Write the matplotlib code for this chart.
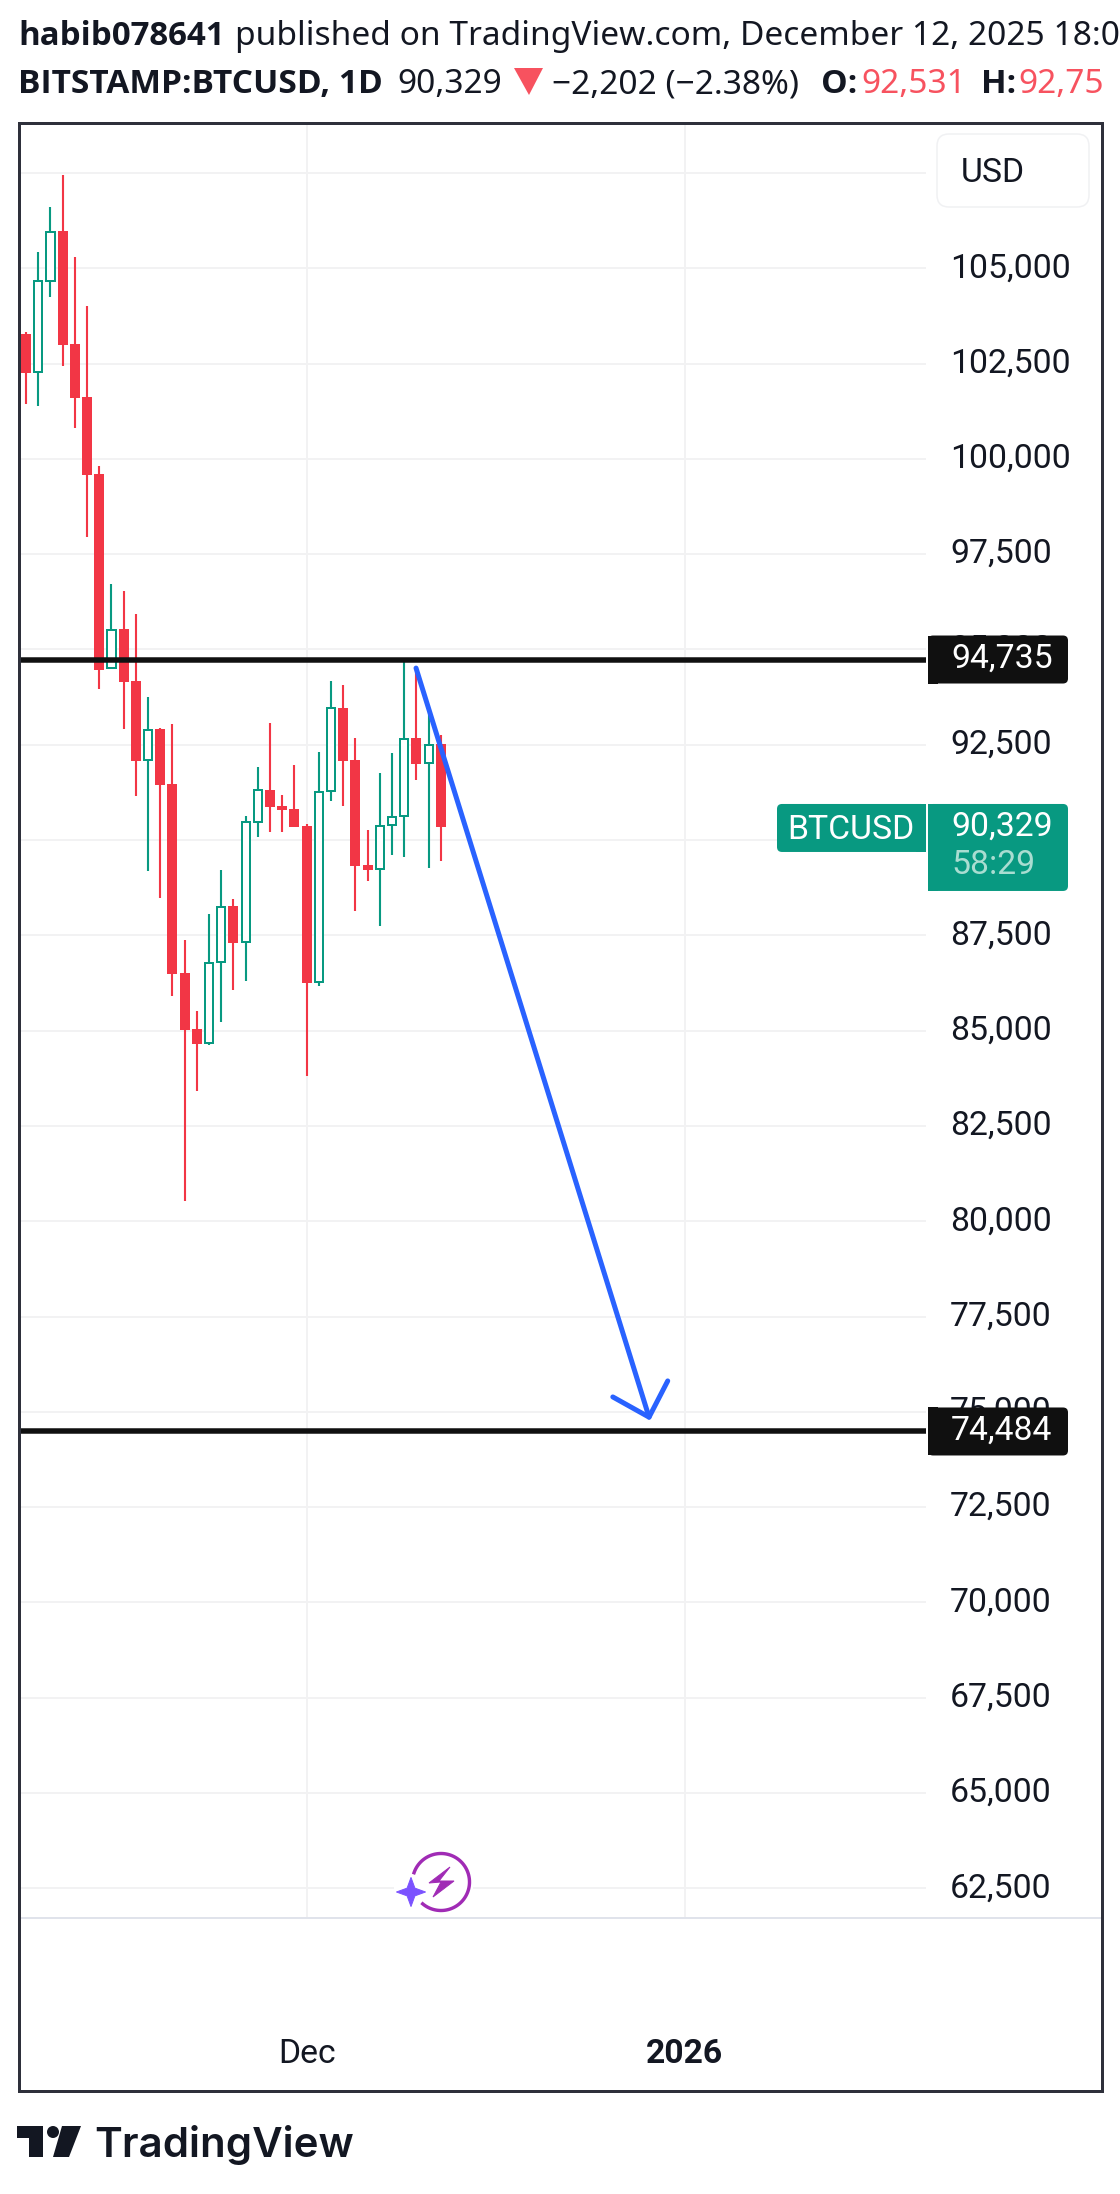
import numpy as np
import matplotlib
matplotlib.use("Agg")
import matplotlib.pyplot as plt
from matplotlib.patches import FancyBboxPatch, Rectangle, Polygon, Circle

# ---------- data ----------
opens  = [103270,102290,104670,105980,103010,101620,99600,94500,95530,94170,92100,92910,91470,86510,85040,84680,86800,88270,87330,90470,91310,90890,90810,90370,86280,91290,93460,92100,89340,89240,90390,90630,92680,92020,92531]
highs  = [103330,105430,106610,107450,105290,104010,99810,96720,96530,95930,93750,92940,93040,87380,85510,88060,89210,88450,90630,91920,93070,91180,91970,90420,92310,94170,94070,92680,90260,91760,92280,94720,94510,93360,92750]
lows   = [101440,101390,104250,102440,100810,97950,93960,94500,92910,91160,89190,88480,85910,80530,83420,84620,85230,86070,86300,90080,90210,90210,90340,83810,86170,91020,90890,88140,88930,87740,89610,89550,91570,89270,89450]
closes = [102260,104670,105960,102990,101600,99580,94460,95520,94150,92070,92890,91440,86490,85020,84650,86780,88250,87300,90470,91310,90870,90790,90340,86250,91270,93450,92070,89320,89210,90380,90610,92650,91990,92500,90329]

price_ticks = [107500,105000,102500,100000,97500,95000,92500,90000,87500,85000,82500,80000,77500,75000,72500,70000,67500,65000,62500]
covered_ticks = [107500, 90000]      # fully hidden by the USD button and the BTCUSD tag
time_ticks = [23, 54]
time_labels = ["Dec", "2026"]

level_prices = [94735, 74484]
last_price = 90329
countdown = "58:29"
arrow_x = [31.97, 51.07]
arrow_y = [94510, 74860]
head_x = [48.1, 51.07, 52.6]
head_y = [75390, 74860, 75810]

# ---------- style ----------
W, H = 1120, 2194
DPI = 100
PX = 72 / DPI
INK = "#131722"
RED = "#F23645"
GREEN = "#089981"
BLACK = "#101010"
BLUE = "#2962FF"
GRID = "#F2F2F3"
AX_PT = 33.8 * PX
plt.rcParams["font.family"] = ["Roboto", "DejaVu Sans"]

fig = plt.figure(figsize=(W / DPI, H / DPI), dpi=DPI, facecolor="white")

L, R, T, B = 18.5, 926.0, 122.5, 1918.0
ax = fig.add_axes([L / W, 1 - B / H, (R - L) / W, (B - T) / H])
ax.set_facecolor("white")
for s in ax.spines.values():
    s.set_visible(False)
ax.set_xlim((L - 26) / 12.2, (R - 26) / 12.2)
ax.set_ylim(112036 - 26.233 * B, 112036 - 26.233 * T)

ax.yaxis.tick_right()
ax.set_yticks(price_ticks)
ax.set_yticklabels(["" if p in covered_ticks else f"{p:,}" for p in price_ticks], fontsize=AX_PT, color=INK)
for lab in ax.get_yticklabels():
    lab.set_va("center")
ax.set_xticks(time_ticks)
ax.set_xticklabels(time_labels, fontsize=AX_PT, color=INK)
ax.get_xticklabels()[1].set_fontweight("bold")
ax.tick_params(axis="y", length=0, pad=24 * PX)
ax.tick_params(axis="x", length=0, pad=120 * PX)
ax.grid(True, color=GRID, lw=2 * PX, zorder=0)
ax.set_axisbelow(True)

# candles
idx = np.arange(len(opens))
o, h, l, c = map(np.array, (opens, highs, lows, closes))
up = c >= o
ax.vlines(idx, l, h, colors=[GREEN if u else RED for u in up], lw=2.1 * PX, zorder=2)
ax.bar(idx[~up], (o - c)[~up], bottom=c[~up], width=10 / 12.2, color=RED, lw=0, zorder=3)
ax.bar(idx[up], (c - o)[up], bottom=o[up], width=8.2 / 12.2, facecolor="white",
       edgecolor=GREEN, lw=2 * PX, zorder=3)

# horizontal levels and drawn arrow
for p in level_prices:
    ax.axhline(p, color=BLACK, lw=5.5 * PX, zorder=4)
ax.plot(arrow_x, arrow_y, color=BLUE, lw=5 * PX, solid_capstyle="round", zorder=5)
ax.plot(head_x, head_y, color=BLUE, lw=5 * PX, solid_capstyle="round",
        solid_joinstyle="round", zorder=5)

# ---------- overlay in pixel coordinates for the chrome ----------
ov = fig.add_axes([0, 0, 1, 1], zorder=10)
ov.set_xlim(0, W)
ov.set_ylim(H, 0)
ov.axis("off")
ov.patch.set_alpha(0)


def py(price):
    return H - ax.transData.transform((0, price))[1]


def tag(x0, x1, y0, y1, color, square):
    ov.add_patch(FancyBboxPatch((x0 + 5, y0 + 5), x1 - x0 - 10, y1 - y0 - 10,
                                boxstyle="round,pad=5,rounding_size=5", fc=color, ec="none", zorder=3))
    if square == "left":
        ov.add_patch(Rectangle((x0, y0), 10, y1 - y0, fc=color, ec="none", zorder=3))
    else:
        ov.add_patch(Rectangle((x1 - 10, y0), 10, y1 - y0, fc=color, ec="none", zorder=3))


for p in level_prices:
    yc = py(p)
    tag(928, 1068, yc - 24, yc + 24, BLACK, "left")
    ov.text(951, yc - 1, f"{p:,}", color="white", fontsize=AX_PT, va="center", ha="left", zorder=4)

yl = py(last_price)
tag(928, 1068, yl - 23.5, yl + 63.5, GREEN, "left")
tag(777, 926, yl - 23.5, yl + 24.5, GREEN, "right")
ov.text(951, yl - 1, f"{last_price:,}", color="white", fontsize=AX_PT, va="center", zorder=4)
ov.text(951, yl + 38, countdown, color="#A9DDD1", fontsize=AX_PT, va="center", zorder=4)
ov.text(787, yl + 3, "BTCUSD", color="white", fontsize=AX_PT, va="center", zorder=4)

# USD button
ov.add_patch(FancyBboxPatch((949, 146), 128, 49, boxstyle="round,pad=12,rounding_size=12",
                            fc="white", ec="#F0F1F3", lw=1.5 * PX, zorder=3))
ov.text(961, 173, "USD", color=INK, fontsize=AX_PT, va="center", zorder=4)

# frame and bottom rule
ov.add_patch(Rectangle((18.5, 122.5), 1102 - 18.5, 2091 - 122.5, fc="none", ec="#2E303B", lw=3 * PX, zorder=6))
ov.plot([20, 1100], [1918, 1918], color="#E0E3EB", lw=2 * PX, zorder=2)

# spark icon
ov.add_patch(Rectangle((394, 1862), 79, 52, fc="white", ec="none", zorder=2))
a = np.radians(np.linspace(230, 521, 120))
ov.plot(441 + 28.5 * np.cos(a), 1882 - 28.5 * np.sin(a), color="#A02BB5", lw=3.4 * PX, zorder=3)
bolt = [(450, 1867), (429, 1883), (441, 1882), (433, 1897), (454, 1881), (439, 1881)]
ov.add_patch(Polygon(bolt, closed=True, fc="#A02BB5", ec="#A02BB5", lw=1 * PX, zorder=3))
sc, sr = (411, 1892), 14.5
star = []
for i in range(8):
    r = sr if i % 2 == 0 else 5.5
    t = np.pi / 4 * i
    star.append((sc[0] + r * np.cos(t), sc[1] - r * np.sin(t)))
ov.add_patch(Polygon(star, closed=True, fc="#7B52FF", ec="#7B52FF", lw=1 * PX, joinstyle="round", zorder=3))

# header
HF = ["Noto Sans", "DejaVu Sans"]
HB = ["Open Sans", "DejaVu Sans"]
HS = 33.5 * PX
ov.text(18, 45, "habib078641", fontsize=33 * PX, fontweight="bold", family=HB, color=INK, va="baseline")
ov.text(235, 45, "published on TradingView.com, December 12, 2025 18:0", fontsize=HS, family=HF, color=INK, va="baseline")
ov.text(18, 93, "BITSTAMP:BTCUSD, 1D", fontsize=HS, fontweight="bold", family=HB, color=INK, va="baseline")
ov.text(397, 93, "90,329", fontsize=HS, family=HF, color=INK, va="baseline")
ov.add_patch(Polygon([(514, 68), (543, 68), (529, 95)], closed=True, fc="#F7525F", ec="none"))
ov.text(552, 93, "\u22122,202 (\u22122.38%)", fontsize=HS, family=HF, color=INK, va="baseline")
ov.text(821, 93, "O:", fontsize=HS, fontweight="bold", family=HB, color=INK, va="baseline")
ov.text(861, 93, "92,531", fontsize=HS, family=HF, color="#F7525F", va="baseline")
ov.text(981, 93, "H:", fontsize=HS, fontweight="bold", family=HB, color=INK, va="baseline")
ov.text(1018, 93, "92,75", fontsize=HS, family=HF, color="#F7525F", va="baseline")

# logo
ov.add_patch(Polygon([(17, 2126), (43, 2126), (43, 2157), (29, 2157), (29, 2138), (17, 2138)], closed=True, fc=INK, ec="none"))
ov.add_patch(Circle((53, 2132), 6, fc=INK, ec="none"))
ov.add_patch(Polygon([(62, 2126), (81, 2126), (69, 2157), (53, 2157)], closed=True, fc=INK, ec="none"))
ov.text(94, 2157, "TradingView", fontsize=42 * PX, fontweight="semibold", family=["Inter", "DejaVu Sans"], color=INK, va="baseline")

fig.savefig("out.png", dpi=DPI, facecolor="white")
